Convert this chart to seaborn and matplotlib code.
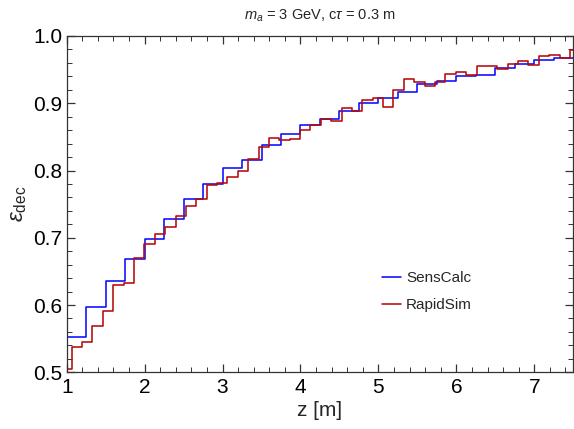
import numpy as np
import pandas as pd
import matplotlib
matplotlib.use("Agg")
import matplotlib.pyplot as plt
import seaborn as sns
from matplotlib.ticker import MultipleLocator

# SensCalc: bins of 0.25 m between z = 1 and 7.5
senscalc_start = 1.0
senscalc_width = 0.25
senscalc_eff = [0.553, 0.597, 0.635, 0.669, 0.698, 0.728, 0.757, 0.780, 0.804,
                0.8155, 0.8375, 0.854, 0.868, 0.877, 0.889, 0.901, 0.908, 0.917,
                0.9285, 0.933, 0.940, 0.942, 0.953, 0.958, 0.964, 0.968]

# RapidSim: finer bins (~0.133 m), shifted with respect to z = 1
rapidsim_start = 0.931
rapidsim_width = 0.1332
rapidsim_eff = [0.505, 0.537, 0.5455, 0.569, 0.5905, 0.630, 0.633, 0.670, 0.690,
                0.7055, 0.7155, 0.732, 0.7465, 0.758, 0.779, 0.782, 0.790, 0.800,
                0.817, 0.835, 0.8485, 0.845, 0.847, 0.860, 0.8675, 0.876, 0.874,
                0.8925, 0.889, 0.9045, 0.908, 0.8945, 0.919, 0.936, 0.9315, 0.925,
                0.9315, 0.9435, 0.9465, 0.9425, 0.9555, 0.9555, 0.9515, 0.9585,
                0.9625, 0.9565, 0.9705, 0.9715, 0.9675, 0.979]

series = {
    "SensCalc": (senscalc_start, senscalc_width, senscalc_eff, "#0A0AFF"),
    "RapidSim": (rapidsim_start, rapidsim_width, rapidsim_eff, "#B40A0A"),
}

sns.set_theme(style="ticks")
plt.rcParams["font.family"] = ["Liberation Sans", "DejaVu Sans"]
plt.rcParams["mathtext.fontset"] = "custom"
plt.rcParams["mathtext.rm"] = "Liberation Sans"
plt.rcParams["mathtext.it"] = "Liberation Sans:italic"

fig = plt.figure(figsize=(5.74, 4.29), dpi=100)
ax = fig.add_axes([0.1162, 0.1322, 0.8825, 0.7839])

for name, (start, width, eff, color) in series.items():
    edges = start + width * np.arange(len(eff) + 1)
    df = pd.DataFrame({"z": edges[:-1] + width / 2, "eff": eff})
    sns.histplot(data=df, x="z", weights="eff", bins=edges.tolist(), element="step",
                 fill=False, color=color, linewidth=1.15, label=name, ax=ax)

ax.set_xlim(1, 7.5)
ax.set_ylim(0.5, 1.0)
ax.xaxis.set_major_locator(MultipleLocator(1))
ax.xaxis.set_minor_locator(MultipleLocator(0.2))
ax.yaxis.set_major_locator(MultipleLocator(0.1))
ax.yaxis.set_minor_locator(MultipleLocator(0.02))
ax.yaxis.set_major_formatter(matplotlib.ticker.FormatStrFormatter("%.1f"))
ax.tick_params(which="both", direction="in", top=True, right=True,
               colors="#333333", labelcolor="black", labelsize=15)
ax.tick_params(which="major", length=6, width=0.9)
ax.tick_params(which="minor", length=3.5, width=0.7)
ax.tick_params(axis="x", pad=4)
ax.tick_params(axis="y", pad=3)
for sp in ax.spines.values():
    sp.set_color("#333333")
    sp.set_linewidth(0.9)

ax.set_xlabel("z [m]", fontsize=15, labelpad=3)
ax.set_ylabel(r"$\epsilon_{\rm dec}$", fontsize=16, labelpad=3)
ax.set_title(r"$m_a$ = 3 GeV, c$\tau$ = 0.3 m", fontsize=10.5, pad=12)

ax.legend(loc="center left", bbox_to_anchor=(0.596, 0.24), frameon=False,
          fontsize=11, handlelength=1.2, handletextpad=0.35, labelspacing=0.85)

fig.savefig("out.png", dpi=100)
